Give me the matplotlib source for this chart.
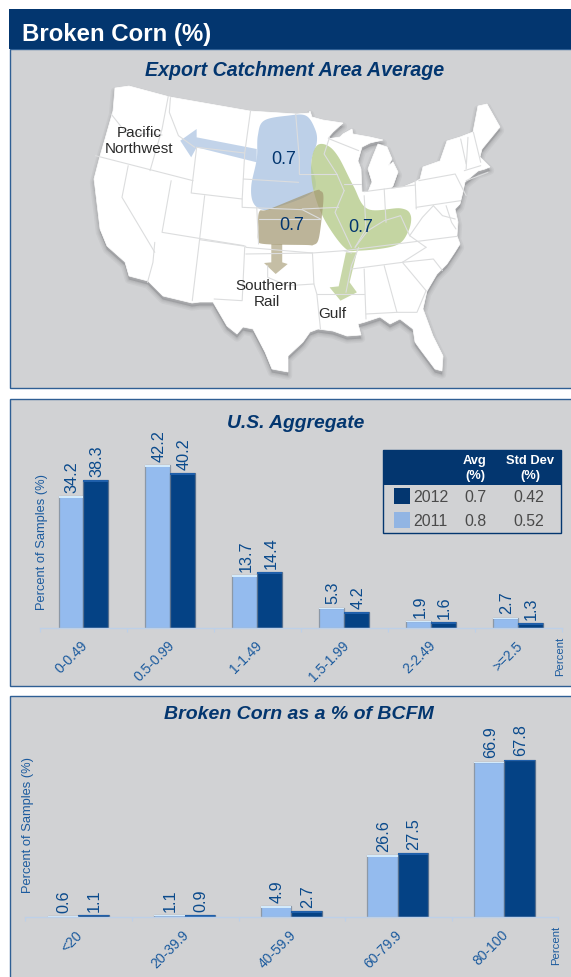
import matplotlib
matplotlib.use('Agg')
import matplotlib.pyplot as plt
from matplotlib.patches import Polygon, Rectangle
import numpy as np

plt.rcParams['font.family'] = ['Liberation Sans', 'DejaVu Sans']

NAVY = '#03366F'
GREY = '#D1D2D4'
BLUE_TXT = '#0A4A8C'
LIGHT = '#94BBEE'
DARK = '#044285'

# chart data
agg_labels = ['0-0.49', '0.5-0.99', '1-1.49', '1.5-1.99', '2-2.49', '>=2.5']
agg_2011 = [34.2, 42.2, 13.7, 5.3, 1.9, 2.7]
agg_2012 = [38.3, 40.2, 14.4, 4.2, 1.6, 1.3]
bcfm_labels = ['<20', '20-39.9', '40-59.9', '60-79.9', '80-100']
bcfm_2011 = [0.6, 1.1, 4.9, 26.6, 66.9]
bcfm_2012 = [1.1, 0.9, 2.7, 27.5, 67.8]
table_rows = [['2012', '0.7', '0.42'], ['2011', '0.8', '0.52']]
catchment_values = ['0.7', '0.7', '0.7']

# map shapes, in pixels of the picture
us_outline = [(115, 89), (129, 87), (170, 98), (250, 112), (297, 115), (309, 114), (310, 112), (312, 118),
              (323, 121), (343, 124), (333, 133), (327, 140), (340, 138), (343, 135), (352, 130), (353, 135),
              (370, 138), (383, 141), (370, 144), (362, 148), (358, 162), (361, 170), (362, 193), (368, 193),
              (372, 183), (368, 170), (373, 157), (378, 145), (387, 148), (392, 160), (388, 167), (393, 163),
              (398, 173), (393, 187), (390, 190), (403, 188), (415, 183), (420, 180), (423, 168), (440, 162),
              (447, 142), (460, 138), (473, 133), (478, 107), (487, 105), (500, 128), (482, 150), (480, 158),
              (490, 168), (485, 170), (478, 172), (465, 183), (463, 193), (460, 205), (455, 210), (458, 223),
              (457, 237), (460, 245), (455, 253), (447, 265), (437, 275), (427, 292), (423, 310), (433, 337),
              (443, 357), (442, 372), (435, 370), (420, 350), (415, 343), (413, 330), (400, 320), (390, 325),
              (380, 318), (365, 323), (358, 325), (361, 336), (347, 337), (333, 332), (318, 330), (310, 333),
              (303, 343), (288, 357), (288, 373), (272, 370), (265, 353), (253, 330), (243, 328), (237, 335),
              (227, 327), (213, 303), (200, 303), (192, 304), (163, 297), (148, 282), (129, 277), (125, 263),
              (107, 247), (100, 230), (94, 180), (100, 157), (105, 140), (113, 112)]

# state borders, x and y as read on a 2.746 x 3 enlargement
state_lines = [
    [(462, 292), (445, 390), (412, 515)],
    [(305, 345), (345, 400), (445, 408)],
    [(468, 296), (465, 340), (490, 410), (535, 445)],
    [(262, 470), (530, 545)],
    [(540, 445), (672, 462), (665, 600), (525, 582), (540, 445)],
    [(688, 335), (672, 462)],
    [(668, 540), (820, 550)],
    [(812, 345), (822, 480), (822, 525)],
    [(665, 600), (665, 625), (830, 632), (880, 660)],
    [(710, 660), (880, 660)],
    [(352, 500), (335, 595), (425, 760)],
    [(470, 545), (445, 700), (670, 740)],
    [(562, 590), (548, 722), (675, 742)],
    [(705, 625), (710, 735)],
    [(548, 722), (528, 905)],
    [(672, 745), (665, 905), (588, 900)],
    [(425, 730), (420, 790), (405, 850)],
    [(675, 745), (858, 762), (945, 755), (965, 762)],
    [(675, 765), (858, 762)],
    [(735, 800), (735, 835), (790, 860), (862, 855)],
    [(858, 762), (862, 855), (870, 885), (880, 990)],
    [(870, 885), (1000, 885)],
    [(985, 745), (965, 800), (950, 880)],
    [(945, 755), (1255, 712)],
    [(965, 810), (1105, 790), (1190, 780), (1215, 815)],
    [(1000, 810), (1005, 960)],
    [(1055, 800), (1090, 940)],
    [(1005, 945), (1090, 940), (1145, 940), (1170, 875)],
    [(1105, 790), (1170, 875)],
    [(1105, 790), (1170, 745)],
    [(822, 525), (925, 525)],
    [(905, 415), (890, 465), (925, 525), (945, 575)],
    [(945, 555), (990, 555)],
    [(830, 630), (930, 625)],
    [(1000, 590), (1005, 690), (975, 745)],
    [(1055, 570), (1060, 670)],
    [(1000, 578), (1140, 558)],
    [(1140, 545), (1143, 630)],
    [(1150, 545), (1250, 525), (1280, 590)],
    [(975, 745), (1010, 695), (1055, 665), (1100, 650), (1125, 710)],
    [(1125, 710), (1160, 655), (1190, 620)],
    [(1125, 710), (1170, 745)],
    [(1143, 625), (1265, 605)],
    [(1190, 620), (1215, 650), (1250, 660)],
    [(1225, 620), (1240, 670), (1252, 690)],
    [(1265, 420), (1280, 495)],
    [(1285, 415), (1280, 510)],
    [(1300, 400), (1320, 490)],
    [(1275, 515), (1320, 500)],
    [(1280, 545), (1340, 520)],
    [(945, 575), (920, 640), (965, 745)],
    [(905, 420), (985, 455)],
]
blue_area = [(725, 365), (790, 350), (840, 350), (865, 390), (870, 430), (855, 490), (862, 575), (760, 625),
             (720, 632), (695, 610), (690, 560), (705, 480), (708, 410)]
blue_arrow = [(705, 450), (540, 415), (540, 390), (495, 425), (525, 475), (540, 445), (705, 490)]
tan_area = [(712, 638), (740, 630), (860, 577), (880, 576), (888, 590), (885, 640), (875, 720), (860, 738),
            (840, 738), (725, 735), (709, 722), (709, 690)]
tan_arrow = [(745, 735), (775, 735), (775, 790), (790, 795), (757, 825), (725, 792), (745, 790)]
green_area = [(870, 440), (900, 440), (930, 475), (970, 560), (1010, 630), (1100, 628), (1128, 650), (1120, 700),
              (1085, 740), (985, 755), (945, 745), (890, 660), (860, 570), (855, 490)]
green_arrow = [(950, 760), (980, 760), (960, 850), (980, 880), (935, 905), (905, 865), (930, 862)]


def zoomed(pts):
    return [(x / 2.746, y / 3) for x, y in pts]


def smooth(pts, steps=12):
    # closed curve through the points (catmull-rom)
    p = np.array(pts, dtype=float)
    n = len(p)
    out = []
    for i in range(n):
        p0, p1, p2, p3 = p[i - 1], p[i], p[(i + 1) % n], p[(i + 2) % n]
        for t in np.linspace(0, 1, steps, endpoint=False):
            out.append(0.5 * (2 * p1 + (p2 - p0) * t + (2 * p0 - 5 * p1 + 4 * p2 - p3) * t ** 2
                              + (3 * p1 - p0 - 3 * p2 + p3) * t ** 3))
    return np.array(out)


fig = plt.figure(figsize=(5.71, 9.78), dpi=100, facecolor='white')

# page layer in pixel coordinates
page = fig.add_axes([0, 0, 1, 1])
page.set_xlim(0, 571)
page.set_ylim(978, 0)
page.axis('off')

edge = '#2F5F94'
page.add_patch(Rectangle((9.5, 50), 570, 338.5, fc=GREY, ec=edge, lw=1))
page.add_patch(Rectangle((9, 9.5), 570, 40.5, fc=NAVY, ec='none'))
page.add_patch(Rectangle((10, 399.5), 570, 287, fc=GREY, ec=edge, lw=1))
page.add_patch(Rectangle((10, 696.7), 570, 300, fc=GREY, ec=edge, lw=1))

page.text(22, 34, 'Broken Corn (%)', color='white', fontsize=17.3, fontweight='bold', va='center')
page.text(295, 70.5, 'Export Catchment Area Average', color=NAVY, fontsize=14.1, fontweight='bold',
          fontstyle='italic', ha='center', va='center')
page.text(296, 424, 'U.S. Aggregate', color=NAVY, fontsize=13.9, fontweight='bold',
          fontstyle='italic', ha='center', va='center')
page.text(299, 714.5, 'Broken Corn as a % of BCFM', color=NAVY, fontsize=14, fontweight='bold',
          fontstyle='italic', ha='center', va='center')

# map with a soft shadow
shadow = np.array(us_outline) + np.array([0, 3.5])
for lw in [6, 4, 2.5, 1.2]:
    page.add_patch(Polygon(shadow, closed=True, fc='#6D6E71', ec='#6D6E71', lw=lw, alpha=0.08, joinstyle='round'))
page.add_patch(Polygon(us_outline, closed=True, fc='white', ec='white', lw=0.5))
for line in state_lines:
    xy = np.array(zoomed(line))
    page.plot(xy[:, 0], xy[:, 1], color='#DCDDDE', lw=0.8, solid_capstyle='round')

page.add_patch(Polygon(zoomed(blue_arrow), closed=True, fc='#BDD0E8', ec='none', alpha=0.92))
page.add_patch(Polygon(zoomed(tan_arrow), closed=True, fc='#C2BBA0', ec='none', alpha=0.95))
page.add_patch(Polygon(zoomed(green_arrow), closed=True, fc='#BFD19A', ec='none', alpha=0.85))
page.add_patch(Polygon(smooth(zoomed(blue_area)), closed=True, fc='#B4CAE5', ec='none', alpha=0.88))
page.add_patch(Polygon(smooth(zoomed(green_area)), closed=True, fc='#B7CC8E', ec='none', alpha=0.82))
page.add_patch(Polygon(smooth(zoomed(tan_area)), closed=True, fc='#A39872', ec='none', alpha=0.72))

for (x, y), v in zip([(283.5, 160), (292, 225), (360.5, 228)], catchment_values):
    page.text(x, y, v, color=NAVY, fontsize=13, ha='center', va='center')
for x, y, s in [(139, 141, 'Pacific\nNorthwest'), (266.5, 294, 'Southern\nRail'), (332.5, 313.5, 'Gulf')]:
    page.text(x, y, s, color='#2B2B2B', fontsize=11, ha='center', va='center', linespacing=1.15)

# legend table
page.add_patch(Rectangle((383, 451), 178, 82.5, fc='none', ec=NAVY, lw=1, zorder=3))
page.add_patch(Rectangle((383, 451), 178, 34.7, fc=NAVY, ec='none', zorder=3))
page.text(475, 468.5, 'Avg\n(%)', color='white', fontsize=9.3, fontweight='bold', ha='center', va='center',
          linespacing=1.3, zorder=4)
page.text(530, 468.5, 'Std Dev\n(%)', color='white', fontsize=9.3, fontweight='bold', ha='center', va='center',
          linespacing=1.3, zorder=4)
for row, y, c in zip(table_rows, [497, 521], [NAVY, '#92B5E3']):
    page.add_patch(Rectangle((394, y - 8), 16, 16, fc=c, ec='none', zorder=3))
    page.text(413.5, y, row[0], color='#4A4A4A', fontsize=11.4, va='center', zorder=4)
    page.text(475, y, row[1], color='#4A4A4A', fontsize=11.4, ha='center', va='center', zorder=4)
    page.text(529, y, row[2], color='#4A4A4A', fontsize=11.4, ha='center', va='center', zorder=4)


def bars(left, right, base, top, px_per_unit, labels, old, new, width, offset, ylab_x, ylab_y, unit_xy):
    ax = fig.add_axes([left / 571, 1 - base / 978, (right - left) / 571, (base - top) / 978])
    ax.patch.set_alpha(0)
    n = len(labels)
    ax.set_xlim(0, n)
    ax.set_ylim(0, (base - top) / px_per_unit)
    pos = np.arange(n) + offset
    cap = 1.7 / px_per_unit
    ax.bar(pos, old, width, align='edge', color=LIGHT, edgecolor='#8C98A6', linewidth=0.9)
    ax.bar(pos + width, new, width, align='edge', color=DARK, edgecolor='#56708F', linewidth=0.9)
    ax.bar(pos, [min(cap, v) for v in old], width, bottom=[v - min(cap, v) for v in old], align='edge',
           color='#D3EAFB', linewidth=0)
    ax.bar(pos + width, [min(cap, v) for v in new], width, bottom=[v - min(cap, v) for v in new], align='edge',
           color='#1F5FAA', linewidth=0)
    for i in range(n):
        for x, v in [(pos[i] + width / 2, old[i]), (pos[i] + 1.5 * width, new[i])]:
            ax.annotate(f'{v}', (x, v), xytext=(0.8, 3), textcoords='offset points', rotation=90, ha='center',
                        va='bottom', color=BLUE_TXT, fontsize=11.7, annotation_clip=False)
    for s in ['top', 'left', 'right']:
        ax.spines[s].set_visible(False)
    ax.spines['bottom'].set_color('#BDD0E8')
    ax.spines['bottom'].set_linewidth(1)
    ax.set_yticks([])
    ax.set_xticks(np.arange(n + 1))
    ax.set_xticklabels([])
    ax.tick_params(axis='x', which='major', length=3, color='#BDD0E8', width=0.8)
    ax.set_xticks(np.arange(n) + 0.47, minor=True)
    ax.set_xticklabels(labels, minor=True, rotation=45, ha='right', va='top', rotation_mode='anchor',
                       color='#1C5B9E', fontsize=10)
    ax.tick_params(axis='x', which='minor', length=0, pad=7)
    page.text(ylab_x, ylab_y, 'Percent of Samples (%)', rotation=90, color='#1C5B9E', fontsize=9.3,
              ha='center', va='center')
    page.text(unit_xy[0], unit_xy[1], 'Percent', rotation=90, color='#1C5B9E', fontsize=8.2,
              ha='center', va='center')
    return ax


bars(40, 561.5, 629, 400, 3.855, agg_labels, agg_2011, agg_2012, 0.287, 0.213, 42, 542, (560.5, 656))
bars(25.5, 558, 918.3, 697, 2.327, bcfm_labels, bcfm_2011, bcfm_2012, 0.285, 0.21, 28, 825, (556, 945.5))

fig.savefig('out.png', dpi=100, facecolor='white')
